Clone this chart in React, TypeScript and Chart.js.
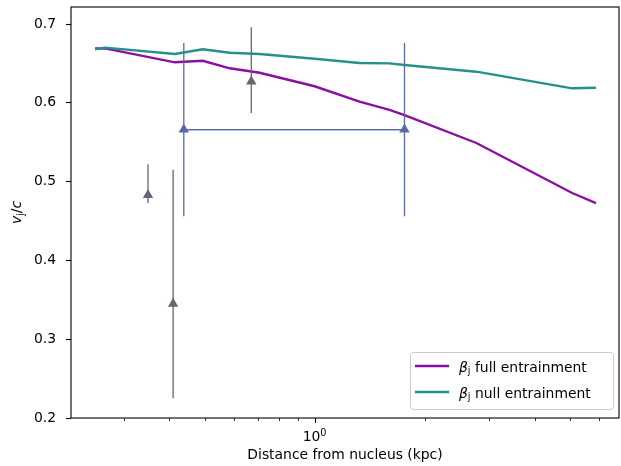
import React, { useEffect, useRef } from 'react';
import { Chart, registerables } from 'chart.js';

Chart.register(...registerables);

// Model curves (distance in kpc, v_j / c)
const curveX = [0.2506, 0.267, 0.4145, 0.494, 0.586, 0.707, 1.0, 1.327, 1.603, 1.762, 2.772, 5.07, 5.89];
const fullY = [0.669, 0.669, 0.6514, 0.6534, 0.6438, 0.6382, 0.621, 0.6014, 0.591, 0.5845, 0.549, 0.4855, 0.4727];
const nullY = [0.668, 0.670, 0.662, 0.668, 0.6636, 0.662, 0.656, 0.6505, 0.650, 0.648, 0.6395, 0.6184, 0.6192];

// Measurements (grey)
const grayX = [0.350, 0.410, 0.671];
const grayY = [0.483, 0.345, 0.627];
const grayLo = [0.473, 0.225, 0.587];
const grayHi = [0.522, 0.515, 0.696];

// Measurements (blue)
const blueX = [0.4385, 1.762];
const blueY = [0.566, 0.566];
const blueLo = [0.456, 0.456];
const blueHi = [0.676, 0.676];
const blueXLo = [0.4385, 0.4385];
const blueXHi = [1.762, 1.762];

// Axes
const xMin = 0.2154;
const xMax = 6.81;
const yMin = 0.2;
const yMax = 0.7216;
const yTicks = [0.2, 0.3, 0.4, 0.5, 0.6, 0.7];
const xMajorTicks = [1];
const xMajorLabels = [['10', '0']];
const xMinorTicks = [0.3, 0.4, 0.5, 0.6, 0.7, 0.8, 0.9, 2, 3, 4, 5, 6];
const legendLabels = ['full entrainment', 'null entrainment'];
const xTitle = 'Distance from nucleus (kpc)';

const PURPLE = '#8a10a0';
const TEAL = '#26908a';
const BLUE = '#5a68a8';
const GRAY = '#6b6276';
const FONT = 'DejaVu Sans';
const FS = 13.9;

const errorBarPlugin = {
  id: 'errorBars',
  afterDatasetDraw(chart: any, args: any) {
    if (args.index !== 2) return;
    const { ctx } = chart;
    const xs = chart.scales.x;
    const ys = chart.scales.y;
    ctx.save();
    ctx.lineWidth = 1.3;
    ctx.strokeStyle = GRAY;
    for (let i = 0; i < grayX.length; i++) {
      const px = xs.getPixelForValue(grayX[i]);
      ctx.beginPath();
      ctx.moveTo(px, ys.getPixelForValue(grayLo[i]));
      ctx.lineTo(px, ys.getPixelForValue(grayHi[i]));
      ctx.stroke();
    }
    ctx.strokeStyle = BLUE;
    for (let i = 0; i < blueX.length; i++) {
      const px = xs.getPixelForValue(blueX[i]);
      const py = ys.getPixelForValue(blueY[i]);
      ctx.beginPath();
      ctx.moveTo(px, ys.getPixelForValue(blueLo[i]));
      ctx.lineTo(px, ys.getPixelForValue(blueHi[i]));
      ctx.stroke();
      ctx.beginPath();
      ctx.moveTo(xs.getPixelForValue(blueXLo[i]), py);
      ctx.lineTo(xs.getPixelForValue(blueXHi[i]), py);
      ctx.stroke();
    }
    ctx.restore();
  },
};

function drawParts(ctx: CanvasRenderingContext2D, parts: any[], x: number, y: number) {
  let cx = x;
  for (const p of parts) {
    ctx.font = p.font;
    ctx.fillText(p.text, cx, y + (p.dy || 0));
    cx += ctx.measureText(p.text).width;
  }
  return cx;
}

function measureParts(ctx: CanvasRenderingContext2D, parts: any[]) {
  let w = 0;
  for (const p of parts) {
    ctx.font = p.font;
    w += ctx.measureText(p.text).width;
  }
  return w;
}

const decorPlugin = {
  id: 'decor',
  afterDraw(chart: any) {
    const { ctx, chartArea } = chart;
    const xs = chart.scales.x;
    ctx.save();
    // frame
    ctx.strokeStyle = '#000';
    ctx.lineWidth = 1.1;
    ctx.strokeRect(chartArea.left, chartArea.top, chartArea.right - chartArea.left, chartArea.bottom - chartArea.top);
    // x ticks
    const drawTick = (v: number, len: number, w: number) => {
      const px = Math.round(xs.getPixelForValue(v)) + 0.5;
      ctx.lineWidth = w;
      ctx.beginPath();
      ctx.moveTo(px, chartArea.bottom);
      ctx.lineTo(px, chartArea.bottom + len);
      ctx.stroke();
    };
    xMajorTicks.forEach((v) => drawTick(v, 5, 1.1));
    xMinorTicks.forEach((v) => drawTick(v, 3, 0.8));

    ctx.fillStyle = '#000';
    ctx.textBaseline = 'alphabetic';
    // x major tick labels (10^0)
    xMajorTicks.forEach((v, i) => {
      const parts = [
        { text: xMajorLabels[i][0], font: `${FS}px ${FONT}` },
        { text: xMajorLabels[i][1], font: `${FS * 0.7}px ${FONT}`, dy: -5.5 },
      ];
      const w = measureParts(ctx, parts);
      const px = xs.getPixelForValue(v);
      drawParts(ctx, parts, px - w / 2, chartArea.bottom + 23);
    });

    // y title
    const yParts = [
      { text: 'v', font: `italic ${FS}px ${FONT}` },
      { text: 'j', font: `${FS * 0.7}px ${FONT}`, dy: 2.5 },
      { text: '/', font: `${FS}px ${FONT}` },
      { text: 'c', font: `italic ${FS}px ${FONT}` },
    ];
    const cy = (chartArea.top + chartArea.bottom) / 2;
    ctx.save();
    ctx.translate(21, cy);
    ctx.rotate(-Math.PI / 2);
    const w = measureParts(ctx, yParts);
    drawParts(ctx, yParts, -w / 2, 0);
    ctx.restore();

    // legend
    const bx = 410.5, by = 352.5, bw = 203, bh = 57, r = 3;
    ctx.beginPath();
    ctx.moveTo(bx + r, by);
    ctx.lineTo(bx + bw - r, by);
    ctx.arcTo(bx + bw, by, bx + bw, by + r, r);
    ctx.lineTo(bx + bw, by + bh - r);
    ctx.arcTo(bx + bw, by + bh, bx + bw - r, by + bh, r);
    ctx.lineTo(bx + r, by + bh);
    ctx.arcTo(bx, by + bh, bx, by + bh - r, r);
    ctx.lineTo(bx, by + r);
    ctx.arcTo(bx, by, bx + r, by, r);
    ctx.closePath();
    ctx.fillStyle = 'rgba(255,255,255,0.8)';
    ctx.fill();
    ctx.strokeStyle = '#cccccc';
    ctx.lineWidth = 1;
    ctx.stroke();

    const colors = [PURPLE, TEAL];
    const rowsY = [366, 392];
    legendLabels.forEach((lab, i) => {
      ctx.strokeStyle = colors[i];
      ctx.lineWidth = 2.3;
      ctx.beginPath();
      ctx.moveTo(415, rowsY[i]);
      ctx.lineTo(449, rowsY[i]);
      ctx.stroke();
      ctx.fillStyle = '#000';
      drawParts(ctx, [
        { text: 'β', font: `italic ${FS}px ${FONT}` },
        { text: 'j', font: `${FS * 0.7}px ${FONT}`, dy: 2.5 },
        { text: ' ' + lab, font: `${FS}px ${FONT}` },
      ], 459, rowsY[i] + 5.5);
    });
    ctx.restore();
  },
};

export default function App() {
  const ref = useRef<HTMLCanvasElement | null>(null);
  useEffect(() => {
    if (!ref.current) return;
    Chart.defaults.font.family = FONT;
    Chart.defaults.color = '#000';
    const chart = new Chart(ref.current, {
      type: 'scatter',
      data: {
        datasets: [
          {
            label: 'gray',
            data: grayX.map((x, i) => ({ x, y: grayY[i] })),
            pointStyle: 'triangle',
            pointRadius: 6,
            backgroundColor: GRAY,
            borderColor: GRAY,
            borderWidth: 0,
            showLine: false,
          },
          {
            label: 'blue',
            data: blueX.map((x, i) => ({ x, y: blueY[i] })),
            pointStyle: 'triangle',
            pointRadius: 6,
            backgroundColor: BLUE,
            borderColor: BLUE,
            borderWidth: 0,
            showLine: false,
          },
          {
            label: 'null entrainment',
            data: curveX.map((x, i) => ({ x, y: nullY[i] })),
            showLine: true,
            borderColor: TEAL,
            borderWidth: 2.4,
            pointRadius: 0,
            tension: 0,
          },
          {
            label: 'full entrainment',
            data: curveX.map((x, i) => ({ x, y: fullY[i] })),
            showLine: true,
            borderColor: PURPLE,
            borderWidth: 2.4,
            pointRadius: 0,
            tension: 0,
          },
        ],
      },
      options: {
        responsive: false,
        animation: false,
        devicePixelRatio: 1,
        events: [],
        layout: { padding: { top: 7, right: 0, left: 0, bottom: 0 } },
        plugins: { legend: { display: false }, tooltip: { enabled: false } },
        scales: {
          x: {
            type: 'logarithmic',
            min: xMin,
            max: xMax,
            afterFit: (s: any) => { s.height = 48; s.paddingLeft = 0; s.paddingRight = 0; },
            afterBuildTicks: (s: any) => {
              s.ticks = xMajorTicks.map((v) => ({ value: v }));
            },
            grid: { display: false, drawTicks: false },
            border: { display: false },
            ticks: {
              autoSkip: false,
              maxRotation: 0,
              padding: 8,
              font: { size: FS, family: FONT },
              color: '#000',
              callback: () => '',
            },
            title: {
              display: true,
              text: xTitle,
              font: { size: FS, family: FONT },
              color: '#000',
              padding: { top: 0, bottom: 2 },
            },
          },
          y: {
            type: 'linear',
            min: yMin,
            max: yMax,
            afterFit: (s: any) => { s.width = 71; s.paddingTop = 0; s.paddingBottom = 0; },
            afterBuildTicks: (s: any) => {
              s.ticks = yTicks.map((v) => ({ value: v }));
            },
            grid: { drawOnChartArea: false, drawTicks: true, tickLength: 5, tickColor: '#000', tickWidth: 1.1 },
            border: { display: false },
            ticks: {
              padding: 10,
              font: { size: FS, family: FONT },
              color: '#000',
              callback: (v: any) => Number(v).toFixed(1),
            },
          },
        },
      },
      plugins: [errorBarPlugin, decorPlugin],
    } as any);
    return () => chart.destroy();
  }, []);
  return (
    <div style={{ position: 'absolute', left: 0, top: 0, width: 621, height: 466, overflow: 'hidden', background: '#fff' }}>
      <canvas ref={ref} width={625} height={466} style={{ display: 'block' }} />
    </div>
  );
}
